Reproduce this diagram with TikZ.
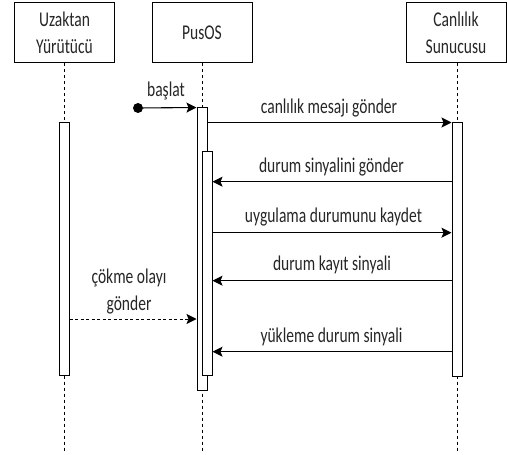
\documentclass[tikz,border=0pt]{standalone}
\usepackage{fontspec}
\setmainfont{Carlito}[FakeStretch=0.74]
\usetikzlibrary{arrows.meta}
\begin{document}
\begin{tikzpicture}[x=1bp,y=-1bp,
  every node/.style={font=\fontsize{21bp}{27bp}\selectfont, text=black!85},
  head/.style={draw, line width=1bp, minimum width=100bp, minimum height=60bp, inner sep=0pt, align=center, fill=white},
  life/.style={draw, line width=0.9bp, dash pattern=on 3bp off 3bp},
  bar/.style={draw, line width=1bp, fill=white, minimum width=10bp, inner sep=0pt},
  msg/.style={draw, line width=1.1bp, -{Stealth[length=10bp,width=10bp,inset=2bp]}},
  dmsg/.style={msg, line width=1bp, dash pattern=on 3bp off 2.5bp},
  lbl/.style={anchor=base, inner sep=0pt},
  dot/.style={circle, fill=black, inner sep=0pt, minimum size=10bp}]
\useasboundingbox (0,0) rectangle (507,455);
% headers
\node[head] (hU) at (64.5,33) {\raisebox{-3bp}{\parbox{90bp}{\centering Uzaktan\\Yürütücü}}};
\node[head] (hP) at (202,33) {\raisebox{-2bp}{PusOS}};
\node[head] (hC) at (456,33) {\raisebox{-3bp}{\parbox{90bp}{\centering Canlılık\\Sunucusu}}};
% lifeline ends
\coordinate (eU) at (64,452);
\coordinate (eP) at (202,452);
\coordinate (eC) at (457,452);
\draw[life] (hU.south -| eU) -- (eU);
\draw[life] (hP.south -| eP) -- (eP);
\draw[life] (hC.south -| eC) -- (eC);
% activation bars
\node[bar, minimum height=252bp] (uBar) at (64,249) {};
\node[bar, minimum height=282bp] (pOut) at (202,249) {};
\node[bar, minimum height=223bp] (pIn) at (207,263.5) {};
\node[bar, minimum height=253bp] (cBar) at (457,249.5) {};
% start
\node[dot] (start) at (138,108) {};
\draw[msg] (start) -- (pOut.north west);
\node[lbl] at (166,97) {başlat};
% messages
\draw[msg] (pOut.east |- cBar.north) -- (cBar.north west);
\node[lbl] at (329,114) {canlılık mesajı gönder};
\coordinate (m2) at (0,181.7);
\draw[msg] (cBar.west |- m2) -- (pIn.east |- m2);
\node[lbl] at (331.5,172.7) {durum sinyalini gönder};
\coordinate (m3) at (0,232.7);
\draw[msg] (pIn.east |- m3) -- (cBar.west |- m3);
\node[lbl] at (333.5,222.7) {uygulama durumunu kaydet};
\coordinate (m4) at (0,280.7);
\draw[msg] (cBar.west |- m4) -- (pIn.east |- m4);
\node[lbl] at (332,270.7) {durum kayıt sinyali};
\coordinate (m5) at (0,351.7);
\draw[msg] (cBar.west |- m5) -- (pIn.east |- m5);
\node[lbl] at (331.5,342.7) {yükleme durum sinyali};
\coordinate (m6) at (0,319);
\draw[dmsg] (uBar.east |- m6) -- (pOut.west |- m6);
\node[lbl, align=center] at (129,310) {çökme olayı\\gönder};
\end{tikzpicture}
\end{document}
